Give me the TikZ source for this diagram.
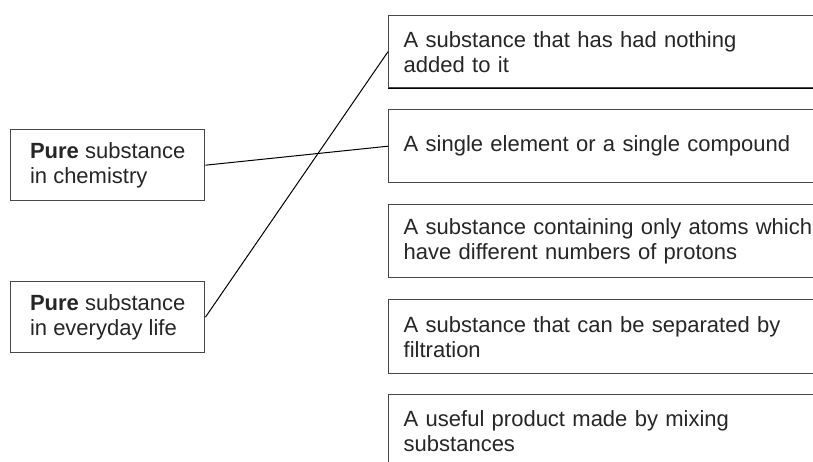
\documentclass[tikz,border=0pt]{standalone}
\usepackage{fontspec}
\setmainfont{Liberation Sans}
\newcommand{\diagfont}{\fontsize{22}{25}\selectfont}
\begin{document}
\begin{tikzpicture}[x=1pt,y=-1pt,
  lbox/.style={draw=black!72, line width=1.4pt, minimum width=194pt, minimum height=71pt,
    align=left, inner sep=0pt, anchor=north west, font=\diagfont, text=black!85},
  rbox/.style={draw=black!72, line width=1.4pt, text width=440pt, inner xsep=15pt, inner ysep=0pt,
    align=left, anchor=north west, font=\diagfont, text=black!85},
  link/.style={draw=black, line width=1pt}]
\useasboundingbox (0,0) rectangle (813,461);
\clip (0,0) rectangle (813,461);
\fill[white] (0,0) rectangle (813,461);
\node[lbox] (chem) at (10,129) {\textbf{Pure} substance\\in chemistry};
\node[lbox] (life) at (10,281) {\textbf{Pure} substance\\in everyday life};
\node[rbox, minimum height=72pt] (ra) at (388,15) {A substance that has had nothing\\added to it};
\node[rbox, minimum height=73pt] (rb) at (388,109) {A single element or a single compound};
\node[rbox, minimum height=73pt] (rc) at (388,204) {A substance containing only atoms which\\have different numbers of protons};
\node[rbox, minimum height=74pt] (rd) at (388,299) {A substance that can be separated by\\filtration};
\node[rbox, minimum height=73pt] (re) at (388,394) {A useful product made by mixing\\substances};
\draw[black, line width=1.6pt] (ra.south west) -- (ra.south east);
\draw[link] (chem.east) -- (rb.west);
\draw[link] (life.east) -- (ra.west);
\end{tikzpicture}
\end{document}
